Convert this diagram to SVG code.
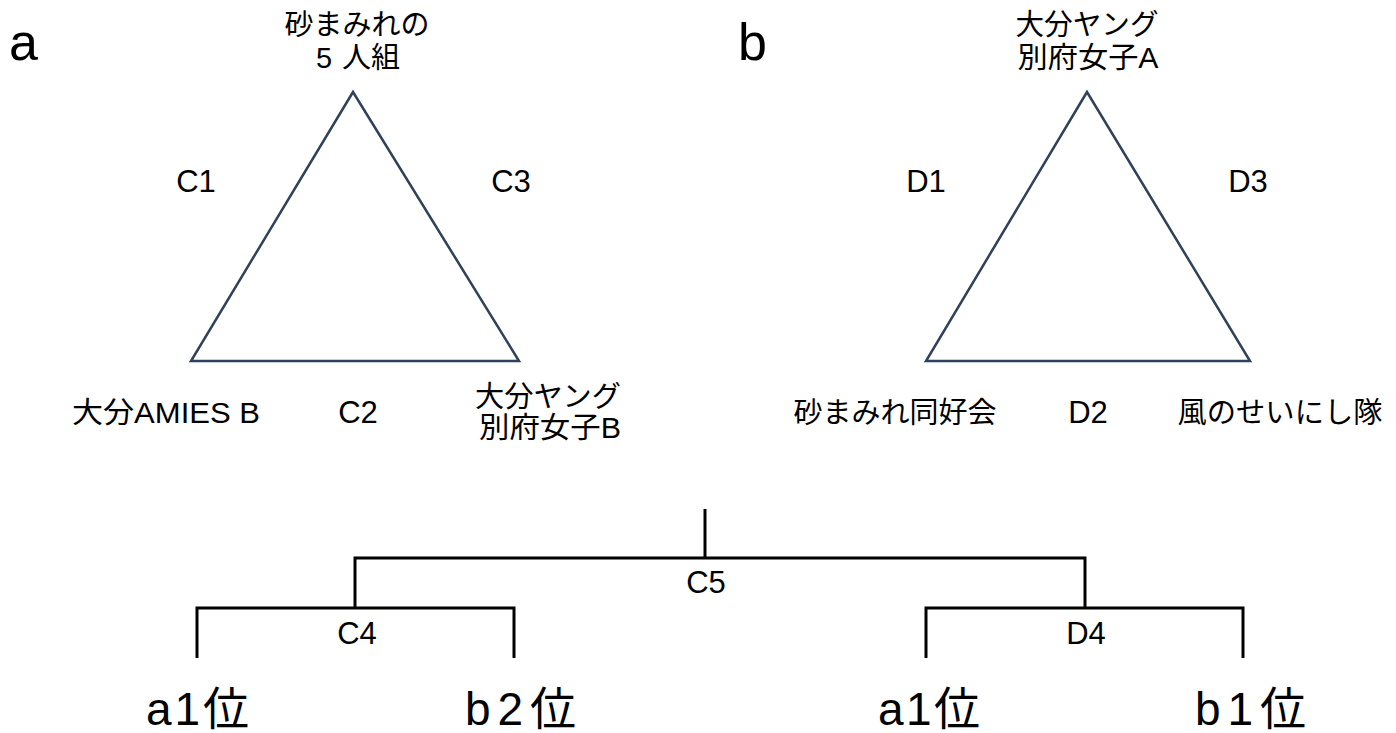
<svg xmlns="http://www.w3.org/2000/svg" width="1396" height="733" viewBox="0 0 1396 733">
<style>
.t{font-family:"Liberation Sans","Noto Sans CJK JP",sans-serif;font-size:29px;fill:#000;text-anchor:middle}
.s{font-family:"Liberation Sans","Noto Sans CJK JP",sans-serif;font-size:29px;fill:#000}
.c{font-family:"Liberation Sans","Noto Sans CJK JP",sans-serif;font-size:31px;fill:#000;text-anchor:middle}
.big{font-family:"Liberation Sans","Noto Sans CJK JP",sans-serif;font-size:52px;fill:#000}
.rank{font-family:"Liberation Sans","Noto Sans CJK JP",sans-serif;font-size:46px;fill:#000}
.tri{fill:none;stroke:#2f4259;stroke-width:2.5;stroke-linejoin:miter}
.br{fill:none;stroke:#000;stroke-width:3}
</style>
<rect width="1396" height="733" fill="#fff"/>
<g id="group-a">
<text class="big" x="9" y="60">a</text>
<polygon class="tri" points="353,92 191,361 519,361"/>
<g id="a-top"><text class="t" x="357" y="35" textLength="145" lengthAdjust="spacingAndGlyphs">砂まみれの</text><text class="s" x="316 342 371" y="68">5人組</text></g>
<g id="a-left"><text class="t" x="166" y="423" textLength="188" lengthAdjust="spacingAndGlyphs">大分AMIES B</text></g>
<g id="a-right"><text class="t" x="548" y="407" textLength="146" lengthAdjust="spacingAndGlyphs">大分ヤング</text><text class="t" x="550" y="438" textLength="142" lengthAdjust="spacingAndGlyphs">別府女子B</text></g>
<text class="c" x="196" y="192">C1</text>
<text class="c" x="511" y="192">C3</text>
<text class="c" x="358" y="423">C2</text>
</g>
<g id="group-b">
<text class="big" x="738" y="60">b</text>
<polygon class="tri" points="1087,92 926,361 1250,361"/>
<g id="b-top"><text class="t" x="1087" y="35" textLength="143" lengthAdjust="spacingAndGlyphs">大分ヤング</text><text class="t" x="1088" y="68" textLength="141" lengthAdjust="spacingAndGlyphs">別府女子A</text></g>
<g id="b-left"><text class="t" x="895" y="423" textLength="203" lengthAdjust="spacingAndGlyphs">砂まみれ同好会</text></g>
<g id="b-right"><text class="t" x="1280" y="423" textLength="205" lengthAdjust="spacingAndGlyphs">風のせいにし隊</text></g>
<text class="c" x="926" y="192">D1</text>
<text class="c" x="1248" y="192">D3</text>
<text class="c" x="1088" y="423">D2</text>
</g>
<g id="connectors">
<line class="br" x1="705" y1="509" x2="705" y2="558"/>
<polyline class="br" points="355,608 355,558 1085,558 1085,608"/>
<polyline class="br" points="197,658 197,608 514,608 514,658"/>
<polyline class="br" points="926,658 926,608 1243,608 1243,658"/>
</g>
<g id="bracket-labels">
<text class="c" x="706" y="593">C5</text>
<text class="c" x="357" y="644">C4</text>
<text class="c" x="1086" y="644">D4</text>
</g>
<g id="ranks">
<text class="rank" x="146" y="725" textLength="103" lengthAdjust="spacing">a1位</text>
<text class="rank" x="465" y="725" textLength="111" lengthAdjust="spacing">b2位</text>
<text class="rank" x="878" y="725" textLength="102" lengthAdjust="spacing">a1位</text>
<text class="rank" x="1195" y="725" textLength="111" lengthAdjust="spacing">b1位</text>
</g>
</svg>
